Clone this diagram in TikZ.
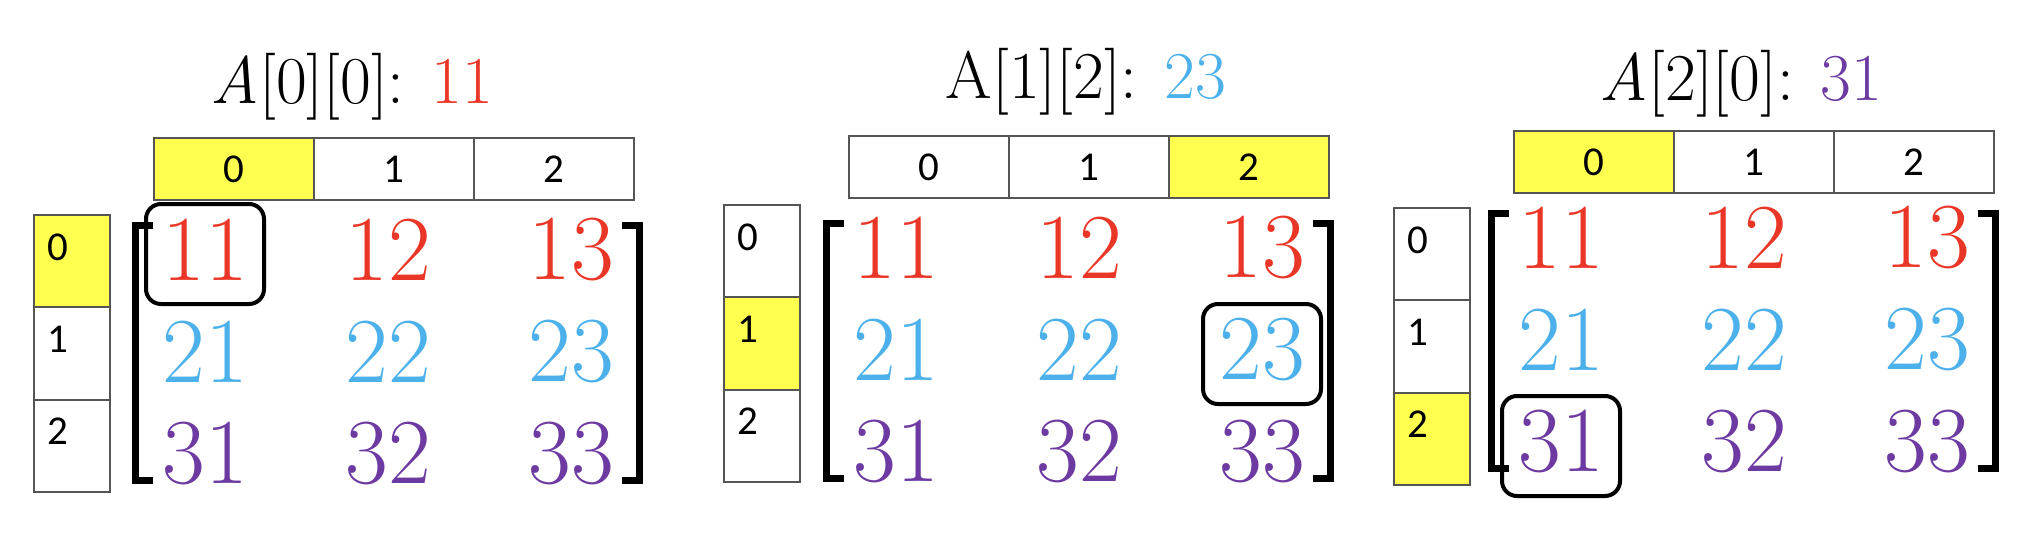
\documentclass[tikz,border=0pt]{standalone}
\usepackage{fontspec}
\newfontfamily\idxfont{Carlito}
\usepackage{tikz}
\usetikzlibrary{positioning,calc}

\definecolor{numred}{RGB}{234,54,38}
\definecolor{numblue}{RGB}{76,176,234}
\definecolor{numpurple}{RGB}{108,58,160}
\definecolor{hilite}{RGB}{255,255,80}
\definecolor{cellgray}{RGB}{85,85,85}

\tikzset{
  idxcell/.style={draw=cellgray, line width=2pt, inner sep=0pt},
  hcell/.style={idxcell, minimum width=160pt, minimum height=62pt,
    font=\idxfont\fontsize{41}{41}\selectfont},
  vcell/.style={idxcell, minimum width=76pt, minimum height=92.3pt},
  idxlbl/.style={font=\idxfont\fontsize{41}{41}\selectfont, inner sep=0pt},
  entry/.style={font=\fontsize{93}{93}\selectfont, inner sep=0pt},
  title/.style={font=\fontsize{67}{67}\selectfont, anchor=base, inner sep=0pt},
  pick/.style={draw, line width=4pt, rounded corners=15pt,
    minimum width=118pt, minimum height=100pt},
  bracket/.style={line width=7pt},
}

\begin{document}
\begin{tikzpicture}[x=1pt, y=-1pt]

\useasboundingbox (0,0) rectangle (2024,546);

% --- One panel per picked element: A[r][c] ---
\foreach \p/\hx/\hy/\cx/\cy/\ex/\ey/\r/\c/\tx/\ty/\ttl in {
    1/153/137/33/214/205/250/0/0/352/103/{\textit{A}[0][0]: \textcolor{numred}{11}},
    2/848/135/723/204/896/248/1/2/1086/98/{A[1][2]: \textcolor{numblue}{23}},
    3/1513/130/1393/207/1561/238/2/0/1741/100/{\textit{A}[2][0]: \textcolor{numpurple}{31}}
} {
    % --- Title ---
    \node[title] (t\p) at (\tx, \ty) {\ttl};

    % --- Column indices ---
    \foreach \j in {0,1,2} {
        \ifnum\j=\c \def\cellfill{hilite}\else\def\cellfill{white}\fi
        \node[hcell, fill=\cellfill, anchor=north west] (h\p-\j)
            at ({\hx+160*\j}, \hy) {\j};
    }

    % --- Row indices ---
    \foreach \i in {0,1,2} {
        \ifnum\i=\r \def\cellfill{hilite}\else\def\cellfill{white}\fi
        \node[vcell, fill=\cellfill, anchor=north west] (v\p-\i)
            at (\cx, {\cy+92.3*\i}) {};
        \node[idxlbl] (vl\p-\i) at ($(v\p-\i.north west)+(25,33)$) {\i};
    }

    % --- Matrix entries ---
    \foreach \i in {0,1,2} {
        \ifcase\i \def\rowcol{numred}\or\def\rowcol{numblue}\or\def\rowcol{numpurple}\fi
        \foreach \j in {0,1,2} {
            \pgfmathtruncatemacro\val{10*(\i+1)+\j+1}
            \node[entry, text=\rowcol] (m\p-\i\j)
                at ({\ex+183*\j}, {\ey+102*\i}) {\val};
        }
    }

    % --- Brackets ---
    \draw[bracket] ($(m\p-00)+(-52,-25)$) -| ($(m\p-20)+(-70,26)$) -- ++(18,0);
    \draw[bracket] ($(m\p-02)+(51,-25)$) -| ($(m\p-22)+(68,26)$) -- ++(-17,0);

    % --- Picked element ---
    \node[pick] (pick\p) at ($(m\p-\r\c)+(0,4)$) {};
}

\end{tikzpicture}
\end{document}
